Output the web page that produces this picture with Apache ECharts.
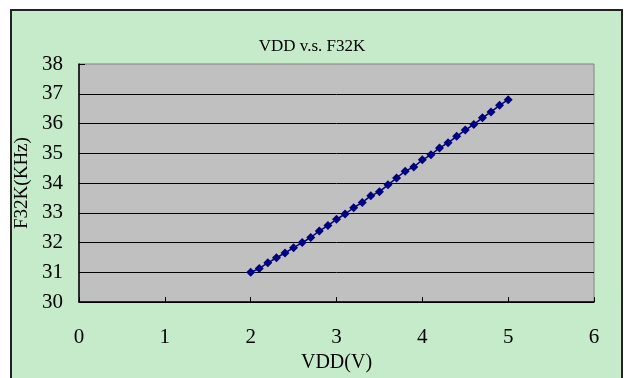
<!DOCTYPE html>
<html>
<head>
<meta charset="utf-8">
<script src="https://cdn.jsdelivr.net/npm/echarts@6/dist/echarts.min.js"></script>
<style>
html,body{margin:0;padding:0;background:#fff;width:624px;height:378px;overflow:hidden;}
#frame{position:absolute;left:10px;top:9px;width:609px;height:380px;background:#C6EBCB;border:2px solid #222;}
#chart{position:absolute;left:0;top:0;width:624px;height:378px;}
</style>
</head>
<body>
<div id="frame"></div>
<div id="chart"></div>
<script>
const titleText = 'VDD v.s. F32K';
const xName = 'VDD(V)';
const yName = 'F32K(KHz)';
const vdd = [2.0,2.1,2.2,2.3,2.4,2.5,2.6,2.7,2.8,2.9,3.0,3.1,3.2,3.3,3.4,3.5,3.6,3.7,3.8,3.9,4.0,4.1,4.2,4.3,4.4,4.5,4.6,4.7,4.8,4.9,5.0];
const f32k = [31.00,31.13,31.32,31.49,31.65,31.83,32.00,32.17,32.39,32.57,32.78,32.96,33.17,33.35,33.57,33.71,33.94,34.17,34.40,34.54,34.78,34.95,35.18,35.35,35.57,35.78,35.97,36.19,36.39,36.61,36.80];

const chart = echarts.init(document.getElementById('chart'), null, {renderer:'canvas'});
const font = 'Liberation Serif';
chart.setOption({
  animation:false,
  backgroundColor:'transparent',
  title:{text:titleText,left:'center',top:33,textStyle:{fontFamily:font,fontSize:17,fontWeight:'normal',color:'#000'}},
  grid:{left:79,right:30,top:64,bottom:68,show:true,backgroundColor:'#C0C0C0',borderColor:'#808080',borderWidth:1},
  xAxis:{type:'value',min:0,max:6,interval:1,
    name:xName,nameLocation:'middle',nameGap:45,
    nameTextStyle:{fontFamily:font,fontSize:20,color:'#000'},
    axisLine:{show:true,onZero:false,lineStyle:{color:'#000',width:1.5}},
    axisTick:{show:true,inside:true,length:5,lineStyle:{color:'#000'}},
    axisLabel:{fontFamily:font,fontSize:21,color:'#000',margin:25},
    splitLine:{show:false}},
  yAxis:{type:'value',min:30,max:38,interval:1,
    name:yName,nameLocation:'middle',nameGap:40,nameRotate:90,
    nameTextStyle:{fontFamily:font,fontSize:19,color:'#000'},
    axisLine:{show:true,onZero:false,lineStyle:{color:'#000',width:1.5}},
    axisTick:{show:true,inside:true,length:6,lineStyle:{color:'#000'}},
    axisLabel:{fontFamily:font,fontSize:21,color:'#000',margin:16,padding:[4,0,0,0]},
    splitLine:{show:true,showMaxLine:false,lineStyle:{color:'#000',width:1}}},
  series:[{type:'line',data:vdd.map((v,i)=>[v,f32k[i]]),
    symbol:'diamond',symbolSize:9,showSymbol:true,
    itemStyle:{color:'#000080'},lineStyle:{color:'#000080',width:1.5}}]
});
</script>
</body>
</html>
